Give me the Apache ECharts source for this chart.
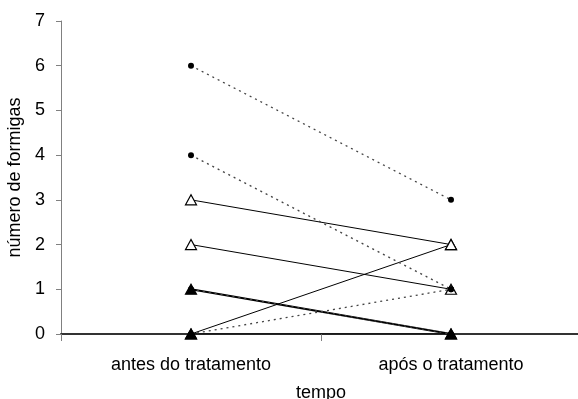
<!DOCTYPE html>
<html><head><meta charset="utf-8">
<script src="https://cdn.jsdelivr.net/npm/echarts@6/dist/echarts.min.js"></script>
<style>html,body{margin:0;padding:0;background:#fff}#c{width:578px;height:399px}</style>
</head><body><div id="c"></div>
<script>
const categories = ['antes do tratamento', 'após o tratamento'];
const yTicks = [0, 1, 2, 3, 4, 5, 6, 7];
// dotted series (filled circles)
const pontilhada1 = [6, 3];
const pontilhada2 = [4, 1];
const pontilhada3 = [0, 1];
const pontilhada4 = [1, 0];
// solid series (triangles)
const continua1 = [3, 2];
const continua2 = [2, 1];
const continua3 = [0, 2];
const continua4 = [1, 0];
const continua5 = [0, 0];

const FONT = 'Liberation Sans, Arial, sans-serif';
const chart = echarts.init(document.getElementById('c'));
function dotted(data){
  return {type:'line', data, symbol:'circle', symbolSize:6, z:5,
    lineStyle:{type:[2,4], width:1.3, color:'#444'},
    itemStyle:{color:'#000', borderWidth:0}, animation:false};
}
function solid(data, filled, w){
  return {type:'line', data, symbol:'triangle', symbolSize:[11,10], z:3,
    lineStyle:{type:'solid', width:w||1, color:'#000'},
    itemStyle:{color: filled ? '#000' : '#fff', borderColor:'#000', borderWidth:1.2}, animation:false};
}
chart.setOption({
  animation:false,
  grid:{left:61, right:-3, top:21, bottom:65, containLabel:false, outerBoundsMode:'none'},
  xAxis:{type:'category', data:categories, boundaryGap:true,
    name:'tempo', nameLocation:'middle', nameGap:50,
    nameTextStyle:{fontFamily:FONT, fontSize:18, color:'#000'},
    axisLine:{lineStyle:{color:'#333', width:2}},
    axisTick:{show:true, inside:false, length:7, alignWithLabel:false, lineStyle:{color:'#808080', width:1}},
    axisLabel:{fontFamily:FONT, fontSize:18, color:'#000', margin:22}},
  yAxis:{type:'value', min:yTicks[0], max:yTicks[yTicks.length-1], interval:1,
    name:'número de formigas', nameLocation:'middle', nameGap:26, nameRotate:90,
    nameTextStyle:{fontFamily:FONT, fontSize:18, color:'#000'},
    axisLine:{show:true, lineStyle:{color:'#808080', width:1}},
    axisTick:{show:true, inside:false, length:5, lineStyle:{color:'#808080'}},
    splitLine:{show:false},
    axisLabel:{fontFamily:FONT, fontSize:18, color:'#000', margin:16}},
  series:[
    solid(continua1), solid(continua2), solid(continua3),
    solid(continua4, true, 2), solid(continua5, true),
    dotted(pontilhada1), dotted(pontilhada2), dotted(pontilhada3), dotted(pontilhada4)
  ]
});
</script></body></html>
